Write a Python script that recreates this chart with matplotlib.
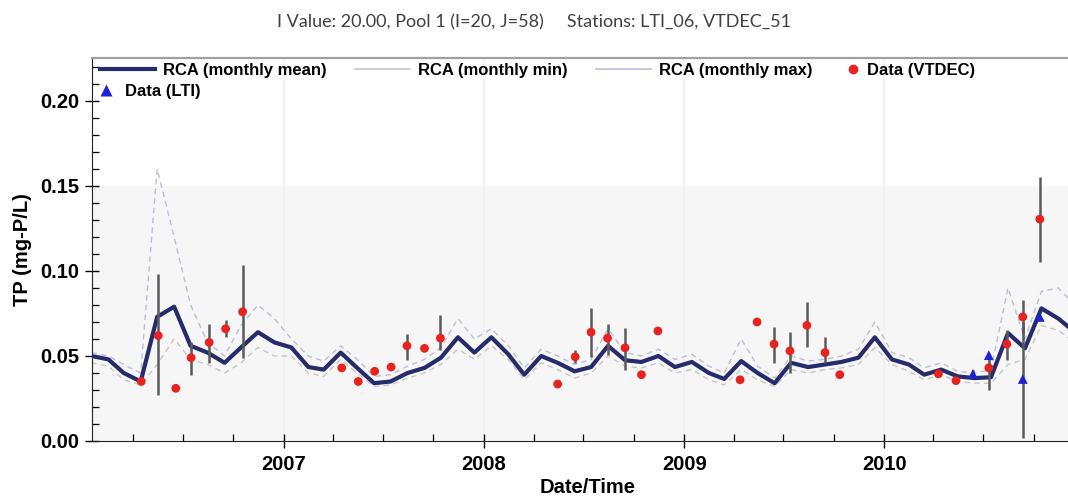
import numpy as np
import pandas as pd
import matplotlib
matplotlib.use("Agg")
import matplotlib.pyplot as plt
import matplotlib.dates as mdates
from matplotlib.lines import Line2D
from matplotlib.ticker import MultipleLocator

# RCA model output, monthly, Jan 2006 - Dec 2010 (mg-P/L), plotted mid-month
months = pd.date_range("2006-01-01", periods=60, freq="MS") + pd.Timedelta(days=14)

rca_mean = [
    0.050, 0.048, 0.040, 0.035, 0.073, 0.079, 0.056, 0.052, 0.046, 0.055, 0.064, 0.058,
    0.055, 0.0435, 0.042, 0.052, 0.043, 0.034, 0.035, 0.040, 0.043, 0.049, 0.061, 0.052,
    0.061, 0.051, 0.039, 0.050, 0.046, 0.041, 0.0435, 0.056, 0.0475, 0.0465, 0.050, 0.0435,
    0.0465, 0.040, 0.0365, 0.047, 0.040, 0.034, 0.046, 0.0435, 0.045, 0.0465, 0.049, 0.061,
    0.048, 0.045, 0.039, 0.042, 0.038, 0.037, 0.0375, 0.0635, 0.0545, 0.078, 0.072, 0.064,
]
rca_min = [
    0.046, 0.044, 0.036, 0.033, 0.045, 0.060, 0.048, 0.045, 0.040, 0.046, 0.055, 0.050,
    0.050, 0.040, 0.038, 0.048, 0.040, 0.032, 0.033, 0.037, 0.040, 0.045, 0.054, 0.048,
    0.056, 0.048, 0.036, 0.046, 0.042, 0.037, 0.040, 0.050, 0.044, 0.043, 0.046, 0.040,
    0.042, 0.036, 0.033, 0.042, 0.036, 0.032, 0.042, 0.040, 0.042, 0.043, 0.045, 0.055,
    0.045, 0.041, 0.036, 0.039, 0.035, 0.034, 0.034, 0.045, 0.048, 0.068, 0.065, 0.058,
]
rca_max = [
    0.052, 0.050, 0.045, 0.040, 0.160, 0.120, 0.080, 0.058, 0.050, 0.068, 0.080, 0.072,
    0.060, 0.050, 0.047, 0.056, 0.048, 0.038, 0.039, 0.044, 0.048, 0.055, 0.072, 0.060,
    0.066, 0.056, 0.043, 0.054, 0.050, 0.045, 0.048, 0.066, 0.052, 0.050, 0.054, 0.048,
    0.051, 0.044, 0.040, 0.060, 0.044, 0.037, 0.050, 0.047, 0.048, 0.050, 0.054, 0.070,
    0.052, 0.049, 0.043, 0.046, 0.041, 0.040, 0.042, 0.090, 0.060, 0.088, 0.090, 0.080,
]

# VTDEC station samples: value with low/high range
vtdec_dates = [
    "2006-04-16", "2006-05-17", "2006-06-18", "2006-07-16", "2006-08-18", "2006-09-17",
    "2006-10-18", "2007-04-17", "2007-05-17", "2007-06-16", "2007-07-16", "2007-08-14",
    "2007-09-15", "2007-10-14", "2008-05-15", "2008-06-16", "2008-07-15", "2008-08-14",
    "2008-09-15", "2008-10-15", "2008-11-14", "2009-04-13", "2009-05-14", "2009-06-14",
    "2009-07-13", "2009-08-13", "2009-09-15", "2009-10-12", "2010-04-10", "2010-05-12",
    "2010-07-11", "2010-08-13", "2010-09-11", "2010-10-12",
]
vtdec_tp = [
    0.035, 0.062, 0.031, 0.049, 0.058, 0.066, 0.076, 0.043, 0.035, 0.041, 0.0435, 0.056,
    0.0545, 0.0605, 0.0335, 0.0495, 0.064, 0.0605, 0.0548, 0.039, 0.0647, 0.036, 0.070,
    0.057, 0.053, 0.068, 0.052, 0.039, 0.0395, 0.0355, 0.043, 0.057, 0.073, 0.1305,
]
vtdec_lo = [
    0.035, 0.027, 0.031, 0.039, 0.046, 0.061, 0.049, 0.043, 0.035, 0.041, 0.0435, 0.0475,
    0.0545, 0.0535, 0.0335, 0.046, 0.0495, 0.0505, 0.042, 0.039, 0.0647, 0.036, 0.070,
    0.046, 0.040, 0.055, 0.046, 0.039, 0.0395, 0.0355, 0.030, 0.0475, 0.063, 0.105,
]
vtdec_hi = [
    0.035, 0.098, 0.031, 0.058, 0.069, 0.071, 0.1035, 0.043, 0.035, 0.041, 0.0435, 0.063,
    0.0545, 0.074, 0.0335, 0.0535, 0.078, 0.069, 0.0665, 0.039, 0.0647, 0.036, 0.070,
    0.067, 0.064, 0.082, 0.061, 0.039, 0.0395, 0.0355, 0.049, 0.065, 0.083, 0.155,
]

# LTI station samples
lti_dates = ["2010-06-12", "2010-07-11", "2010-09-11", "2010-10-12"]
lti_tp = [0.0395, 0.0505, 0.0365, 0.073]
lti_lo = [0.0375, 0.0505, 0.002, 0.073]
lti_hi = [0.042, 0.0505, 0.070, 0.073]

MEAN_C = "#262b6b"
MIN_C = "#c6c6c6"
MAX_C = "#babed8"
VTDEC_C = "#e8221f"
LTI_C = "#1f22d6"
BAR_C = "#5a5a5a"

plt.rcParams["font.family"] = ["Liberation Sans", "DejaVu Sans"]

fig = plt.figure(figsize=(10.68, 5.04), dpi=100)
# axes runs slightly past the right edge of the figure
ax = fig.add_axes([0.0861, 0.125, 0.9280, 0.760])

# shaded lower band and faint year lines
ax.axhspan(0.0, 0.15, color="#f6f6f6", zorder=0, lw=0)
for yr in range(2007, 2011):
    ax.axvline(pd.Timestamp(f"{yr}-01-01"), color="#f0f0f0", lw=1.2, zorder=0.5)

ax.plot(months, rca_mean, color=MEAN_C, lw=3.0, zorder=3)
ax.plot(months, rca_min, color=MIN_C, lw=1.0, ls=(0, (4, 3)), zorder=2)
ax.plot(months, rca_max, color=MAX_C, lw=1.0, ls=(0, (4, 3)), zorder=2)

vd = pd.to_datetime(vtdec_dates)
vt = np.array(vtdec_tp)
v_err = [vt - np.array(vtdec_lo), np.array(vtdec_hi) - vt]
ax.errorbar(vd, vt, yerr=v_err, fmt="none", ecolor=BAR_C, elinewidth=1.8,
            capsize=0, zorder=4)
ax.scatter(vd, vt, s=40, color=VTDEC_C, edgecolors="none", zorder=5)

ld = pd.to_datetime(lti_dates)
lt = np.array(lti_tp)
l_err = [lt - np.array(lti_lo), np.array(lti_hi) - lt]
ax.errorbar(ld, lt, yerr=l_err, fmt="none", ecolor=BAR_C, elinewidth=1.8,
            capsize=0, zorder=4)
ax.scatter(ld, lt, s=50, marker="^", color=LTI_C, edgecolors="none", zorder=5)

ax.set_xlim(pd.Timestamp("2006-01-16"), pd.Timestamp("2010-12-30"))
ax.set_ylim(0, 0.2253)

ax.xaxis.set_major_locator(mdates.YearLocator())
ax.xaxis.set_major_formatter(mdates.DateFormatter("%Y"))
ax.xaxis.set_minor_locator(mdates.MonthLocator(bymonth=[1, 4, 7, 10]))
ax.yaxis.set_major_locator(MultipleLocator(0.05))
ax.yaxis.set_minor_locator(MultipleLocator(0.01))
ax.yaxis.set_major_formatter(plt.FormatStrFormatter("%.2f"))

ax.tick_params(which="major", direction="inout", length=10, width=1, labelsize=14.5)
ax.tick_params(which="minor", direction="in", length=5, width=0.9)
ax.tick_params(axis="x", which="major", pad=5)
ax.tick_params(axis="y", which="major", pad=4)
for lbl in ax.get_xticklabels() + ax.get_yticklabels():
    lbl.set_fontweight("bold")

ax.spines["right"].set_visible(False)
ax.spines["top"].set_color("#a0a0a0")
ax.spines["top"].set_linewidth(1.6)
ax.spines["left"].set_color("#222222")
ax.spines["bottom"].set_color("#222222")

ax.set_xlabel("Date/Time", fontsize=14.5, fontweight="bold", labelpad=3)
ax.set_ylabel("TP (mg-P/L)", fontsize=14.5, fontweight="bold", labelpad=6)

# legend entries: three lines in one row, the two data sets placed on their own
leg_font = {"weight": "bold", "size": 12}
common = dict(loc="upper left", frameon=False, borderaxespad=0, borderpad=0,
              prop=leg_font)
line_handles = [
    Line2D([], [], color=MEAN_C, lw=3.0),
    Line2D([], [], color=MIN_C, lw=1.2),
    Line2D([], [], color=MAX_C, lw=1.2),
]
leg_lines = ax.legend(line_handles,
                      ["RCA (monthly mean)", "RCA (monthly min)", "RCA (monthly max)"],
                      ncol=3, bbox_to_anchor=(0.008, 0.988), handlelength=3.3,
                      handletextpad=0.48, columnspacing=1.7, **common)
ax.add_artist(leg_lines)
vt_handle = Line2D([], [], ls="none", marker="o", ms=7, color=VTDEC_C, mec="none")
leg_vt = ax.legend([vt_handle], ["Data (VTDEC)"], bbox_to_anchor=(0.759, 0.988),
                   handlelength=1.0, handletextpad=0.36, **common)
ax.add_artist(leg_vt)
lti_handle = Line2D([], [], ls="none", marker="^", ms=8, color=LTI_C, mec="none")
ax.legend([lti_handle], ["Data (LTI)"], bbox_to_anchor=(0.006, 0.932),
          handlelength=1.0, handletextpad=0.6, **common)

fig.text(0.5, 0.955, "I Value: 20.00, Pool 1 (I=20, J=58)     Stations: LTI_06, VTDEC_51",
         ha="center", va="center", fontsize=13, color="#404040",
         family=["Lato", "DejaVu Sans"])

fig.savefig("out.png", dpi=100)
